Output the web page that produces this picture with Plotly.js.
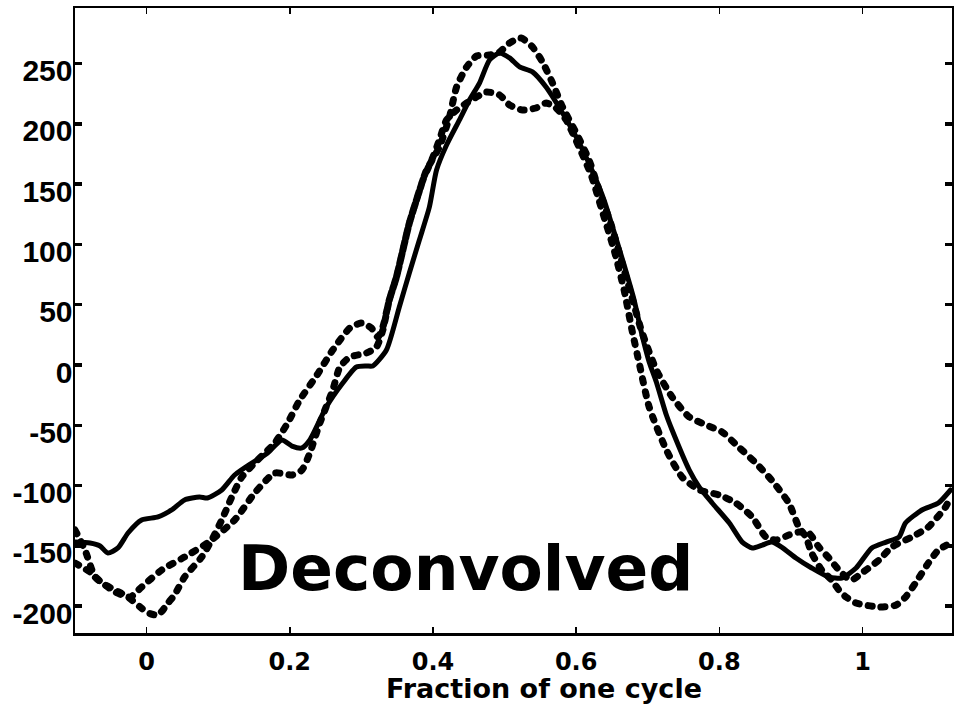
<!DOCTYPE html>
<html><head><meta charset="utf-8">
<script src="https://cdn.plot.ly/plotly-3.0.1.min.js"></script>
<style>
html,body{margin:0;padding:0;background:#fff;}
#chart{width:954px;height:708px;}
.scatterlayer .js-line{stroke-linecap:round;stroke-linejoin:round;}
</style></head><body><div id="chart"></div><script>
const xTickVals = [0, 0.2, 0.4, 0.6, 0.8, 1];
const xTickText = ['0', '0.2', '0.4', '0.6', '0.8', '1'];
const yTickVals = [-200, -150, -100, -50, 0, 50, 100, 150, 200, 250];
const yTickText = ['-200', '-150', '-100', '-50', '0', '50', '100', '150', '200', '250'];

const solidX = [-0.100,-0.079,-0.065,-0.054,-0.040,-0.026,-0.007,0.016,0.035,0.053,0.074,0.085,0.105,0.123,0.147,0.169,0.189,0.203,0.217,0.228,0.251,0.274,0.293,0.307,0.316,0.335,0.353,0.367,0.381,0.395,0.405,0.419,0.437,0.451,0.465,0.479,0.493,0.507,0.521,0.539,0.558,0.576,0.600,0.622,0.639,0.653,0.667,0.681,0.692,0.702,0.712,0.726,0.734,0.758,0.772,0.790,0.814,0.832,0.846,0.860,0.873,0.887,0.907,0.929,0.953,0.971,0.991,1.013,1.033,1.051,1.060,1.083,1.106,1.123];
const solidY = [-146.8,-147.6,-150.1,-155.9,-151.7,-139.3,-128.5,-126.0,-120.2,-111.9,-109.5,-110.3,-103.6,-91.2,-81.3,-73.0,-62.2,-67.2,-68.8,-62.2,-34.8,-14.9,-1.7,-0.8,-0.8,12.4,48.1,76.3,103.6,131.0,161.7,182.4,203.2,219.7,233.8,252.9,258.7,254.6,247.1,243.0,230.5,213.9,189.1,161.7,136.8,110.2,82.9,53.9,24.9,2.5,-14.1,-41.5,-53.9,-87.1,-101.2,-114.4,-131.0,-146.8,-151.7,-149.3,-146.8,-150.9,-160.0,-168.3,-175.8,-176.6,-168.3,-151.7,-146.8,-142.6,-131.0,-120.2,-114.4,-103.6];

const dottedAX = [-0.100,-0.079,-0.062,-0.044,-0.026,-0.009,0.002,0.016,0.030,0.039,0.053,0.077,0.091,0.105,0.119,0.133,0.155,0.179,0.197,0.214,0.238,0.260,0.284,0.300,0.314,0.323,0.330,0.339,0.349,0.358,0.367,0.377,0.386,0.391,0.409,0.423,0.433,0.447,0.461,0.479,0.493,0.507,0.523,0.539,0.553,0.567,0.581,0.600,0.618,0.632,0.649,0.663,0.677,0.691,0.712,0.734,0.758,0.782,0.804,0.827,0.851,0.873,0.897,0.911,0.921,0.929,0.943,0.957,0.967,0.977,0.991,1.023,1.047,1.060,1.074,1.092,1.106,1.123];
const dottedAY = [-164.2,-171.6,-180.8,-186.6,-192.4,-200.7,-205.6,-207.3,-197.3,-190.7,-175.8,-159.2,-145.1,-128.5,-109.5,-92.9,-78.8,-64.7,-48.1,-29.0,-8.3,12.4,30.7,34.8,30.7,23.2,31.5,53.9,73.0,95.4,117.7,136.8,153.4,161.7,180.8,205.6,230.5,247.1,256.2,257.0,259.5,267.0,271.1,263.7,251.2,233.8,213.9,192.4,170.0,145.1,116.1,87.1,58.0,29.0,-4.1,-26.5,-43.1,-49.8,-55.6,-68.0,-81.3,-95.4,-114.4,-134.3,-142.6,-155.9,-170.0,-178.3,-186.6,-192.4,-197.3,-200.7,-199.0,-192.4,-180.8,-164.2,-153.4,-147.6];

const dottedBX = [-0.100,-0.086,-0.072,-0.058,-0.044,-0.023,-0.007,0.021,0.053,0.085,0.123,0.151,0.179,0.203,0.217,0.228,0.242,0.260,0.270,0.284,0.307,0.321,0.330,0.339,0.349,0.358,0.367,0.377,0.386,0.400,0.409,0.419,0.433,0.447,0.461,0.475,0.493,0.507,0.525,0.544,0.558,0.572,0.586,0.604,0.621,0.636,0.653,0.667,0.678,0.688,0.702,0.726,0.748,0.772,0.800,0.823,0.846,0.865,0.879,0.897,0.911,0.925,0.939,0.953,0.967,0.977,0.985,0.999,1.023,1.041,1.069,1.092,1.116,1.123];
const dottedBY = [-136.8,-153.4,-175.8,-182.4,-188.2,-192.4,-184.1,-170.0,-159.2,-147.6,-128.5,-106.1,-89.6,-91.2,-87.1,-73.0,-48.1,-20.7,-1.7,6.6,9.9,14.9,29.0,53.9,73.0,95.4,117.7,136.8,153.4,172.5,186.6,203.2,211.4,217.2,222.2,226.4,223.9,215.6,211.4,213.1,217.2,213.1,203.2,180.8,157.5,128.5,95.4,62.2,29.0,1.7,-34.8,-70.5,-92.9,-103.6,-107.8,-114.4,-126.0,-142.6,-145.1,-141.0,-138.5,-139.3,-150.9,-160.0,-170.0,-175.8,-178.3,-172.5,-161.7,-150.9,-142.6,-134.3,-117.7,-109.5];

const panelLabel = 'Deconvolved';
const xTitle = 'Fraction of one cycle';

const solidLine = {color: '#000', width: 5, shape: 'spline', smoothing: 0.6};
const dotLine = {color: '#000', width: 7, shape: 'spline', smoothing: 0.6, dash: '4px,9px'};

const traces = [
  {x: solidX, y: solidY, mode: 'lines', line: solidLine, hoverinfo: 'skip'},
  {x: dottedAX, y: dottedAY, mode: 'lines', line: dotLine, hoverinfo: 'skip'},
  {x: dottedBX, y: dottedBY, mode: 'lines', line: dotLine, hoverinfo: 'skip'}
];

const axisCommon = {
  showline: true, linecolor: '#000', linewidth: 2.5, mirror: 'ticks',
  ticks: 'inside', tickcolor: '#000', showgrid: false, zeroline: false
};

const layout = {
  width: 954, height: 708,
  margin: {l: 75, r: 2, t: 8, b: 75, pad: 0},
  paper_bgcolor: '#fff', plot_bgcolor: '#fff',
  showlegend: false,
  xaxis: Object.assign({}, axisCommon, {
    range: [-0.1, 1.125], tickmode: 'array', tickvals: xTickVals, ticktext: xTickText,
    ticklen: 6, tickwidth: 1.5, ticklabelstandoff: 6,
    tickfont: {family: 'DejaVu Sans', size: 24, weight: 'bold', color: '#000'}
  }),
  yaxis: Object.assign({}, axisCommon, {
    range: [-222.2, 296], tickmode: 'array', tickvals: yTickVals, ticktext: yTickText,
    ticklen: 7, tickwidth: 3.5, ticklabelshift: 7, ticklabelstandoff: -6,
    tickfont: {family: 'Liberation Sans', size: 30, weight: 'bold', color: '#000'}
  }),
  annotations: [
    {text: panelLabel, xref: 'x', yref: 'y', x: 0.446, y: -169, xanchor: 'center', yanchor: 'middle',
     showarrow: false, font: {family: 'DejaVu Sans', size: 63, weight: 'bold', color: '#000'}},
    {text: xTitle, xref: 'x', yref: 'paper', x: 0.5555, y: -0.089, xanchor: 'center', yanchor: 'middle',
     showarrow: false, font: {family: 'DejaVu Sans', size: 27, weight: 'bold', color: '#000'}}
  ]
};

Plotly.newPlot('chart', traces, layout, {staticPlot: true, displayModeBar: false});
</script></body></html>
